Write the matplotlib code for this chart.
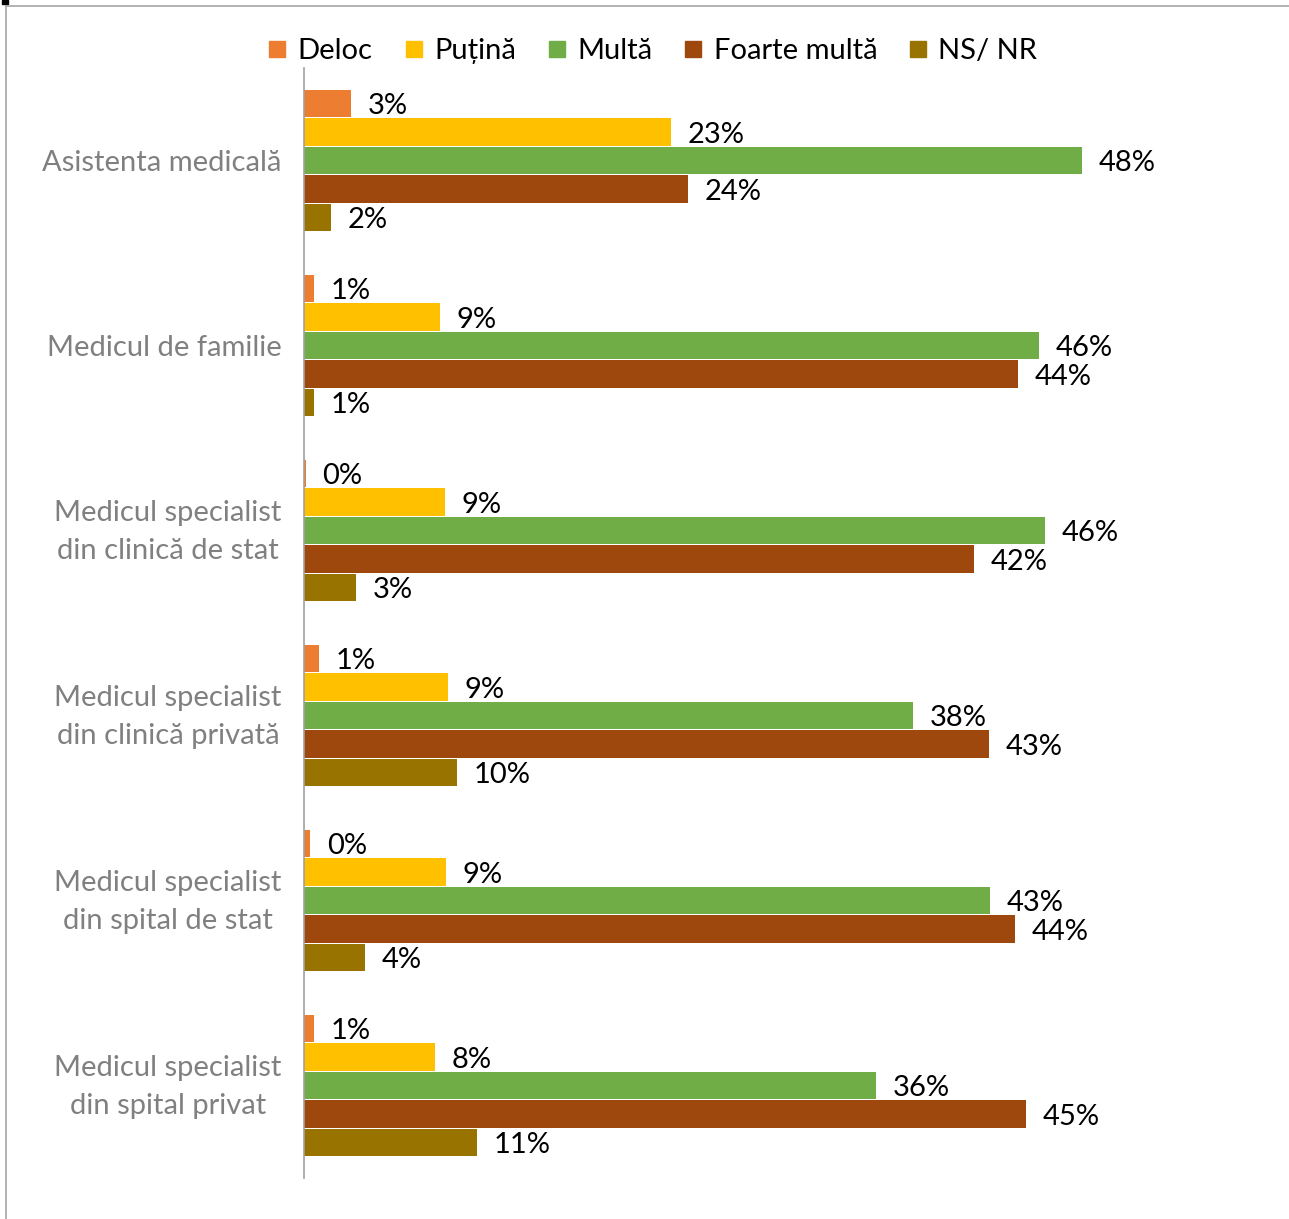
import matplotlib
matplotlib.use("Agg")
import matplotlib.pyplot as plt
from matplotlib.lines import Line2D
from matplotlib.patches import Rectangle
import matplotlib.transforms as mtransforms
import numpy as np

categories = ["Asistenta medicală", "Medicul de familie",
              "Medicul specialist\ndin clinică de stat",
              "Medicul specialist\ndin clinică privată",
              "Medicul specialist\ndin spital de stat",
              "Medicul specialist\ndin spital privat"]
series = ["Deloc", "Puțină", "Multă", "Foarte multă", "NS/ NR"]
colors = ["#ED7D31", "#FFC000", "#70AD47", "#9E480E", "#997300"]

deloc = [2.9, 0.6, 0.1, 0.9, 0.4, 0.6]
putina = [22.7, 8.4, 8.7, 8.9, 8.8, 8.1]
multa = [48.2, 45.5, 45.9, 37.7, 42.5, 35.4]
foarte = [23.8, 44.2, 41.5, 42.4, 44.0, 44.7]
nsnr = [1.7, 0.6, 3.2, 9.5, 3.8, 10.7]

deloc_lbl = [3, 1, 0, 1, 0, 1]
putina_lbl = [23, 9, 9, 9, 9, 8]
multa_lbl = [48, 46, 46, 38, 43, 36]
foarte_lbl = [24, 44, 42, 43, 44, 45]
nsnr_lbl = [2, 1, 3, 10, 4, 11]

values = [deloc, putina, multa, foarte, nsnr]
labels = [deloc_lbl, putina_lbl, multa_lbl, foarte_lbl, nsnr_lbl]

plt.rcParams['font.family'] = ['Lato', 'DejaVu Sans']

W, H = 1289, 1219
fig = plt.figure(figsize=(W / 100, H / 100), dpi=100)
left, right, top, bottom = 304, 1273, 68, 1178
ax = fig.add_axes([left / W, 1 - bottom / H, (right - left) / W, (bottom - top) / H])

y = np.arange(len(categories))
pitch = 0.154
for i, (vals, lbls) in enumerate(zip(values, labels)):
    pos = y + (i - 2) * pitch
    ax.barh(pos, vals, height=0.147, color=colors[i], label=series[i])
    for p, v, l in zip(pos, vals, lbls):
        ax.annotate(f"{l}%", (v, p), xytext=(12, -2), textcoords="offset points",
                    ha="left", va="center", fontsize=21, color="black")

ax.set_xlim(0, 60)
ax.set_ylim(len(categories) - 0.5, -0.5)
ax.set_yticks(y)
ax.set_yticklabels(categories, fontsize=21, color="#808080",
                   multialignment="center", linespacing=1.55)
ax.tick_params(axis="y", length=0, pad=16)
ax.set_xticks([])
for s in ["top", "right", "bottom"]:
    ax.spines[s].set_visible(False)
ax.spines["left"].set_color("#A0A0A0")
ax.spines["left"].set_linewidth(1.2)

shift = mtransforms.ScaledTranslation(0, 7 / 100, fig.dpi_scale_trans)
for lab in ax.get_yticklabels():
    if "\n" in lab.get_text():
        lab.set_transform(lab.get_transform() + shift)

handles = [Line2D([], [], marker="s", linestyle="none", markersize=11.5,
                  markerfacecolor=c, markeredgecolor=c) for c in colors]
fig.legend(handles, series, loc="center", bbox_to_anchor=(653 / W, 1 - 51 / H),
           ncol=5, frameon=False, fontsize=21, handlelength=0.6,
           handletextpad=0.4, columnspacing=1.1)

# outer chart border (cropped)
fig.add_artist(Line2D([6 / W, 6 / W], [0, 1 - 6 / H], color="#A6A6A6", lw=1.2,
                      transform=fig.transFigure))
fig.add_artist(Line2D([6 / W, 1], [1 - 6 / H, 1 - 6 / H], color="#A6A6A6", lw=1.2,
                      transform=fig.transFigure))
fig.add_artist(Rectangle((2 / W, 1 - 4 / H), 6 / W, 4 / H, color="black",
                         transform=fig.transFigure))

fig.savefig("out.png", dpi=100)
